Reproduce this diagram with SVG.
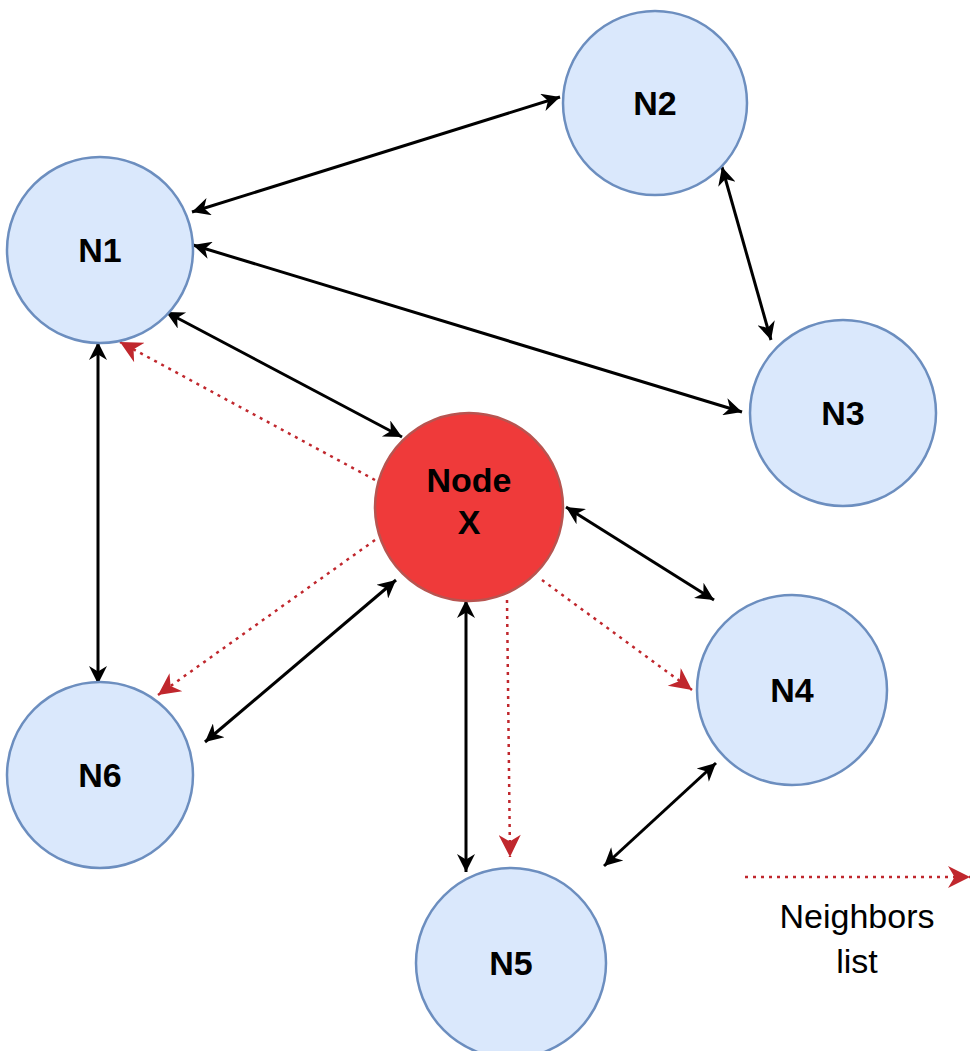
<svg xmlns="http://www.w3.org/2000/svg" width="974" height="1051" viewBox="0 0 974 1051">
<style>
.n{fill:#dae8fc;stroke:#6c8ebf;stroke-width:2.5}
.x{fill:#ef3a3a;stroke:#b85450;stroke-width:2.5}
.t{font-family:"Liberation Sans",Arial,sans-serif;font-weight:bold;font-size:34px;text-anchor:middle;fill:#000}
.b{stroke:#000;stroke-width:3;fill:none;marker-start:url(#ka);marker-end:url(#ka)}
.r{stroke:#c0272d;stroke-width:2.5;fill:none;stroke-dasharray:3,5;marker-end:url(#ra)}
.l{font-family:"Liberation Sans",Arial,sans-serif;font-size:34px;text-anchor:middle;fill:#000}
</style>
<defs>
<marker id="ka" viewBox="0 0 10 10" refX="10" refY="5" markerWidth="22" markerHeight="18" orient="auto-start-reverse" markerUnits="userSpaceOnUse">
<path d="M0,0 L10,5 L0,10 L3,5 Z" fill="#000"/>
</marker>
<marker id="ra" viewBox="0 0 10 10" refX="10" refY="5" markerWidth="26" markerHeight="22" orient="auto" markerUnits="userSpaceOnUse">
<path d="M0,0 L10,5 L0,10 L3,5 Z" fill="#c0272d"/>
</marker>
</defs>
<g id="connectors">
<line class="b" x1="192" y1="212" x2="560" y2="97"/>
<line class="b" x1="722" y1="167" x2="771" y2="340"/>
<line class="b" x1="193" y1="245" x2="742" y2="412"/>
<line class="b" x1="166" y1="312" x2="402" y2="437"/>
<line class="b" x1="98" y1="342" x2="98" y2="684"/>
<line class="b" x1="396" y1="580" x2="205" y2="742"/>
<line class="b" x1="566" y1="507" x2="714" y2="600"/>
<line class="b" x1="466" y1="600" x2="466" y2="872"/>
<line class="b" x1="716" y1="763" x2="604" y2="866"/>
<line class="r" x1="375" y1="480" x2="120" y2="342"/>
<line class="r" x1="375" y1="540" x2="158" y2="695"/>
<line class="r" x1="507" y1="600" x2="510" y2="857"/>
<line class="r" x1="542" y1="580" x2="692" y2="690"/>
<line class="r" x1="745" y1="877" x2="970" y2="877"/>
</g>
<g id="N1"><circle class="n" cx="100" cy="250" r="93"/><text class="t" x="100" y="262">N1</text></g>
<g id="N2"><circle class="n" cx="655" cy="103" r="92"/><text class="t" x="655" y="115">N2</text></g>
<g id="N3"><circle class="n" cx="843" cy="413" r="93"/><text class="t" x="843" y="425">N3</text></g>
<g id="NodeX"><circle class="x" cx="469" cy="507" r="94"/><text class="t" x="469" y="492">Node</text><text class="t" x="469" y="534">X</text></g>
<g id="N4"><circle class="n" cx="792" cy="690" r="95"/><text class="t" x="792" y="702">N4</text></g>
<g id="N5"><circle class="n" cx="511" cy="963" r="95"/><text class="t" x="511" y="975">N5</text></g>
<g id="N6"><circle class="n" cx="100" cy="775" r="93"/><text class="t" x="100" y="787">N6</text></g>
<g id="legend"><text class="l" x="857" y="928">Neighbors</text><text class="l" x="857" y="973">list</text></g>
</svg>
